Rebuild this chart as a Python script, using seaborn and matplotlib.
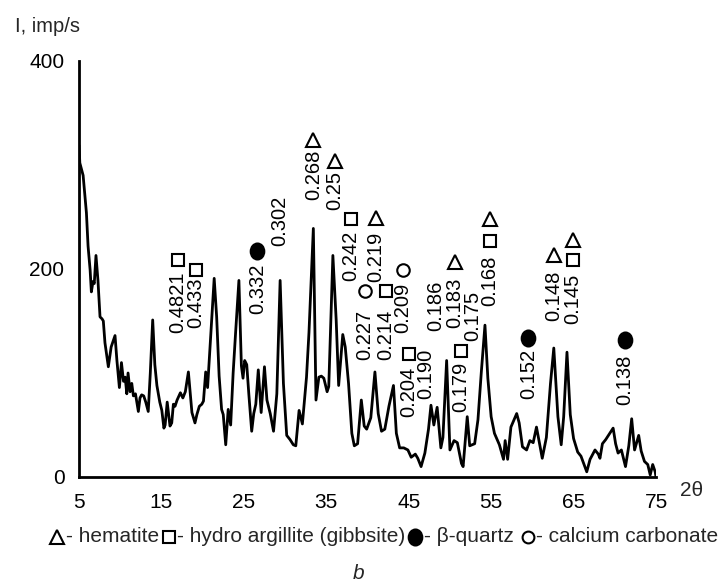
import numpy as np
import pandas as pd
import matplotlib
matplotlib.use("Agg")
import matplotlib.pyplot as plt
from matplotlib.lines import Line2D
from matplotlib.markers import MarkerStyle
from matplotlib.transforms import Affine2D
import seaborn as sns

# --- diffraction pattern (2θ, intensity) ---
two_theta = [5.0, 5.1, 5.3, 5.5, 5.9, 6.1, 6.35, 6.5, 6.7, 6.85, 7.06, 7.3, 7.55, 7.8, 7.95,
             8.15, 8.56, 8.9, 9.37, 9.6, 9.9, 10.15, 10.4, 10.6, 10.8, 10.95, 11.2, 11.4, 11.6,
             11.85, 12.2, 12.4, 12.6, 12.85, 13.1, 13.4, 13.65, 13.94, 14.2, 14.45, 14.8, 15.05,
             15.3, 15.45, 15.7, 15.85, 16.04, 16.25, 16.45, 16.65, 16.9, 17.3, 17.6, 17.9, 18.27,
             18.5, 18.7, 19.07, 19.3, 19.6, 19.9, 20.1, 20.37, 20.6, 21.0, 21.4, 21.7, 22.0, 22.3,
             22.5, 22.8, 23.1, 23.4, 23.7, 24.0, 24.4, 24.7, 24.9, 25.1, 25.35, 25.6, 25.95, 26.2,
             26.45, 26.75, 27.1, 27.5, 27.8, 28.2, 28.6, 29.0, 29.4, 29.8, 30.2, 30.6, 31.0, 31.3,
             31.7, 32.1, 32.6, 32.9, 33.43, 33.75, 34.1, 34.4, 34.7, 35.1, 35.3, 35.8, 36.2, 36.5,
             37.0, 37.3, 37.7, 38.1, 38.4, 38.8, 39.25, 39.6, 39.9, 40.4, 40.9, 41.3, 41.7, 42.1,
             42.6, 43.15, 43.5, 43.9, 44.4, 44.9, 45.3, 45.8, 46.1, 46.5, 46.96, 47.4, 47.7, 48.05,
             48.45, 48.9, 49.15, 49.6, 50.0, 50.5, 50.9, 51.4, 51.6, 52.1, 52.4, 53.0, 53.4, 53.8,
             54.25, 54.6, 55.0, 55.4, 56.0, 56.5, 56.7, 57.0, 57.4, 58.1, 58.4, 58.8, 59.3, 59.7,
             60.1, 60.5, 61.2, 61.7, 62.2, 62.6, 63.1, 63.5, 63.8, 64.2, 64.6, 65.0, 65.5, 65.9,
             66.6, 67.0, 67.6, 68.0, 68.2, 68.5, 68.9, 69.8, 70.1, 70.4, 70.8, 71.3, 71.7, 72.05,
             72.4, 72.9, 73.2, 73.6, 74.0, 74.3, 74.6, 74.9, 75.0]
intensity = [319, 302, 296, 290, 254, 222, 199, 178, 188, 186, 213, 189, 154, 152, 150,
             129, 106, 125, 136, 112, 86, 110, 92, 96, 80, 100, 82, 90, 78,
             80, 63, 76, 79, 78, 72, 63, 100, 151, 108, 88, 72, 64,
             47, 50, 72, 62, 49, 52, 70, 68, 74, 81, 76, 82, 101,
             80, 62, 52, 60, 68, 70, 73, 101, 86, 139, 191, 154, 97, 65,
             60, 31, 65, 50, 100, 139, 189, 107, 95, 112, 108, 80, 44, 61,
             70, 103, 62, 106, 74, 61, 44, 80, 189, 90, 40, 36, 31, 30,
             64, 51, 96, 139, 239, 74, 96, 97, 95, 82, 87, 213, 151, 88,
             137, 125, 90, 42, 30, 32, 74, 49, 46, 57, 101, 61, 44, 46,
             68, 88, 42, 28, 28, 26, 19, 22, 18, 10, 23, 46, 69, 50,
             67, 28, 38, 112, 26, 35, 33, 13, 10, 58, 30, 32, 55, 100,
             146, 95, 58, 42, 31, 17, 35, 17, 48, 61, 52, 29, 26, 35,
             33, 48, 18, 38, 90, 124, 58, 31, 58, 120, 60, 37, 24, 20,
             5, 17, 26, 22, 18, 32, 36, 47, 32, 23, 26, 10, 30, 56,
             26, 40, 25, 15, 12, 2, 12, 5, 0]

# --- interplanar spacing labels (nm) ---
d_labels = ["0.4821", "0.433", "0.332", "0.302", "0.268", "0.25", "0.242", "0.227",
            "0.219", "0.214", "0.209", "0.204", "0.190", "0.186", "0.183", "0.175",
            "0.179", "0.168", "0.152", "0.148", "0.145", "0.138"]
d_label_x = [16.95, 19.19, 26.65, 29.32, 33.43, 36.03, 38.0, 39.64,
             41.03, 42.24, 44.25, 45.03, 47.04, 48.31, 50.61, 52.74,
             51.34, 54.86, 59.53, 62.62, 64.93, 71.24]
d_label_top = [198, 192, 205, 270, 315, 294, 237, 161,
               236, 161, 187, 106, 123, 189, 192, 179,
               111, 213, 123, 198, 195, 118]

# --- phase symbols above the labels ---
hematite_x = [33.43, 36.03, 41.03, 50.61, 54.86, 62.62, 64.93]
hematite_y = [324.5, 304.3, 249.5, 206.3, 248, 213, 227.9]
gibbsite_x = [16.95, 19.19, 38.0, 42.24, 45.03, 51.34, 54.86, 64.93]
gibbsite_y = [208.7, 199.5, 248, 178.4, 118.3, 120.7, 227.4, 208.2]
quartz_x = [26.65, 59.53, 71.24]
quartz_y = [217.6, 134.1, 131.3]
calcite_x = [39.64, 44.25]
calcite_y = [178.4, 199]

phase_names = ["- hematite", "- hydro argillite (gibbsite)", "- β-quartz", "- calcium carbonate"]

x_ticks = [5, 15, 25, 35, 45, 55, 65, 75]
y_ticks = [0, 200, 400]

sns.set_theme(style="white")
plt.rcParams["font.family"] = ["Liberation Sans", "DejaVu Sans"]

W, H = 720, 585
fig = plt.figure(figsize=(W / 100, H / 100), dpi=100)
ax = fig.add_axes([79 / W, 1 - 477 / H, (656 - 79) / W, (477 - 61) / H])

df = pd.DataFrame({"two_theta": two_theta, "intensity": intensity})
sns.lineplot(data=df, x="two_theta", y="intensity", ax=ax, color="black",
             linewidth=2.0, estimator=None, sort=False, legend=False)

ax.set_xlim(5, 75)
ax.set_ylim(0, 400)
ax.set_xticks(x_ticks)
ax.set_yticks(y_ticks)
ax.set_xlabel("")
ax.set_ylabel("")
for side in ("top", "right"):
    ax.spines[side].set_visible(False)
for side in ("left", "bottom"):
    ax.spines[side].set_linewidth(2.0)
    ax.spines[side].set_color("black")
ax.tick_params(axis="both", direction="inout", length=11, width=2.0,
               color="black", labelsize=15, labelcolor="black")
ax.tick_params(axis="y", pad=5)
ax.tick_params(axis="x", pad=6)

# d-spacing annotations
for txt, xv, yv in zip(d_labels, d_label_x, d_label_top):
    ax.text(xv, yv, txt, rotation=90, ha="center", va="top",
            fontsize=14.5, color="black")

# phase markers
mk = dict(ls="none", markeredgecolor="black", markeredgewidth=1.5)
tall_dot = MarkerStyle("o", transform=Affine2D().scale(0.85, 1.0))
ax.plot(hematite_x, hematite_y, marker="^", markersize=10, markerfacecolor="white", **mk)
ax.plot(gibbsite_x, gibbsite_y, marker="s", markersize=8.5, markerfacecolor="white", **mk)
ax.plot(calcite_x, calcite_y, marker="o", markersize=9, markerfacecolor="white", **mk)
ax.plot(quartz_x, quartz_y, marker=tall_dot, markersize=11.5, markerfacecolor="black", **mk)

# axis titles
fig.text(15 / W, 1 - 32 / H, "I, imp/s", ha="left", va="baseline", fontsize=14.5)
fig.text(680 / W, 1 - 491 / H, "2θ", ha="left", va="center", fontsize=15)

# phase key below the axis
key_y = 1 - 536.5 / H
key_symbols = [("^", 9.5, "white", 57), ("s", 8.5, "white", 168.5),
               (tall_dot, 11.5, "black", 415.5), ("o", 8.5, "white", 528)]
key_text_x = [66, 177, 424, 536]
for (m, s, fc, px), tx, name in zip(key_symbols, key_text_x, phase_names):
    fig.add_artist(Line2D([px / W], [key_y], transform=fig.transFigure, ls="none",
                          marker=m, markersize=s, markerfacecolor=fc,
                          markeredgecolor="black", markeredgewidth=1.5))
    fig.text(tx / W, 1 - 542 / H, name, ha="left", va="baseline", fontsize=15)

fig.text(359 / W, 1 - 579 / H, "b", ha="center", va="baseline", fontsize=15,
         style="italic")

fig.savefig("out.png", dpi=100)
